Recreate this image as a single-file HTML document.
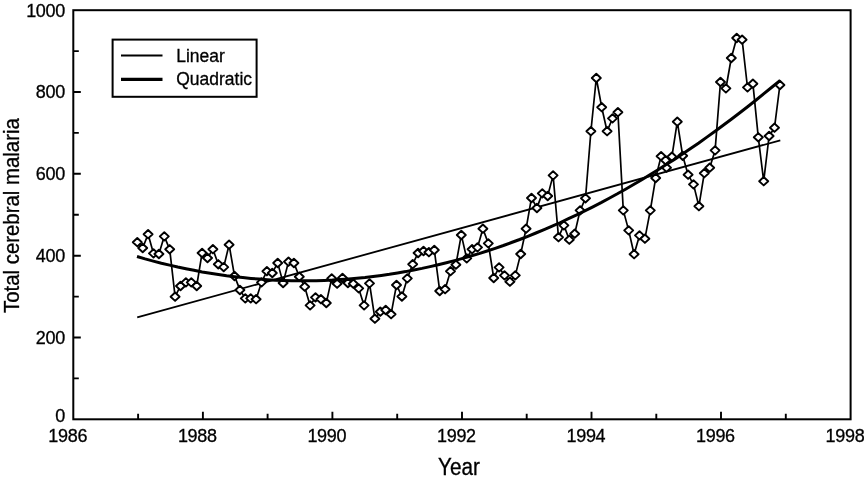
<!DOCTYPE html>
<html><head><meta charset="utf-8"><title>Total cerebral malaria by year</title>
<style>
html,body{margin:0;padding:0;background:#fff;}
svg{display:block;font-family:"Liberation Sans",Arial,Helvetica,sans-serif;fill:#000;}
.tk{font-size:18px;letter-spacing:-0.3px;}
text{stroke:#000;stroke-width:0.3px;}
.ax{font-size:20.6px;}
.lg{font-size:18px;}
</style></head><body>
<svg width="864" height="480" viewBox="0 0 864 480">
<rect width="864" height="480" fill="#fff"/>
<rect x="73.3" y="10.2" width="777.3" height="409.1" fill="none" stroke="#000" stroke-width="2"/>
<path d="M138.1,419.3v-5.5M202.9,419.3v-7.5M267.6,419.3v-5.5M332.4,419.3v-7.5M397.2,419.3v-5.5M462.0,419.3v-7.5M526.7,419.3v-5.5M591.5,419.3v-7.5M656.3,419.3v-5.5M721.0,419.3v-7.5M785.8,419.3v-5.5M73.3,378.4h5.5M73.3,337.5h7.5M73.3,296.6h5.5M73.3,255.7h7.5M73.3,214.8h5.5M73.3,173.8h7.5M73.3,132.9h5.5M73.3,92.0h7.5M73.3,51.1h5.5" fill="none" stroke="#000" stroke-width="1.9"/>
<g class="tk"><text x="67.7" y="441.6" text-anchor="middle">1986</text><text x="197.3" y="441.6" text-anchor="middle">1988</text><text x="326.8" y="441.6" text-anchor="middle">1990</text><text x="456.4" y="441.6" text-anchor="middle">1992</text><text x="585.9" y="441.6" text-anchor="middle">1994</text><text x="715.4" y="441.6" text-anchor="middle">1996</text><text x="845.0" y="441.6" text-anchor="middle">1998</text><text x="65" y="422.4" text-anchor="end">0</text><text x="65" y="343.8" text-anchor="end">200</text><text x="65" y="262.0" text-anchor="end">400</text><text x="65" y="180.1" text-anchor="end">600</text><text x="65" y="98.3" text-anchor="end">800</text><text x="65" y="16.5" text-anchor="end">1000</text></g>
<text class="ax" transform="translate(459,474.7) scale(1.005,1.13)" text-anchor="middle">Year</text>
<text class="ax" transform="translate(19.4,215.6) rotate(-90) scale(0.99,1.1)" text-anchor="middle">Total cerebral malaria</text>
<path d="M137.2,317.4 L780.3,140.3" fill="none" stroke="#000" stroke-width="1.8"/>
<path d="M137.3,242.2 L142.7,247.9 L148.1,234.2 L153.5,253.4 L158.9,253.9 L164.3,236.3 L169.7,249.3 L175.1,296.7 L180.5,285.9 L185.9,282.4 L191.3,282.4 L196.7,285.9 L202.1,252.9 L207.5,257.9 L212.9,249.2 L218.3,264.3 L223.7,267.1 L229.1,244.7 L234.5,275.9 L239.9,289.9 L245.3,298.4 L250.7,298.4 L256.1,299.2 L261.5,282.4 L266.9,271.2 L272.3,272.9 L277.7,262.9 L283.1,282.9 L288.5,261.7 L293.9,262.9 L299.3,276.7 L304.7,286.7 L310.1,305.4 L315.5,297.4 L320.9,299.2 L326.3,302.9 L331.7,278.4 L337.1,283.7 L342.5,277.9 L347.9,282.9 L353.3,283.7 L358.7,288.4 L364.1,305.4 L369.5,283.4 L374.9,318.7 L380.3,311.7 L385.7,309.9 L391.1,314.2 L396.5,284.9 L401.9,296.5 L407.3,278.4 L412.7,264.2 L418.1,252.9 L423.5,250.9 L428.9,252.2 L434.3,249.9 L439.7,290.9 L445.1,289.2 L450.5,271.2 L455.9,264.7 L461.3,234.9 L466.7,258.4 L472.1,249.2 L477.5,247.4 L482.9,228.7 L488.3,243.4 L493.7,277.9 L499.1,267.4 L504.5,275.4 L509.9,281.7 L515.3,275.4 L520.7,253.9 L526.1,228.7 L531.5,197.9 L536.9,207.9 L542.3,193.4 L547.7,195.9 L553.1,175.4 L558.5,237.2 L563.9,225.4 L569.3,239.7 L574.7,233.7 L580.1,210.4 L585.5,198.3 L590.9,131.2 L596.3,78.0 L601.7,107.2 L607.1,131.2 L612.5,118.5 L617.9,112.2 L623.3,210.4 L628.7,230.4 L634.1,254.2 L639.5,235.4 L644.9,238.7 L650.3,210.4 L655.7,177.9 L661.1,156.2 L665.6,160.3 L666.5,167.7 L671.9,156.7 L677.3,121.7 L682.7,155.8 L688.1,174.7 L693.5,184.4 L698.9,206.2 L704.3,173.2 L709.7,167.7 L715.1,150.4 L720.5,82.0 L725.9,88.5 L731.3,58.0 L736.7,38.0 L742.1,39.7 L747.5,87.5 L752.9,83.7 L758.3,137.3 L763.7,181.2 L769.1,136.0 L774.5,127.7 L779.9,85.0" fill="none" stroke="#000" stroke-width="1.7" stroke-linejoin="round"/>
<g fill="#fff" stroke="#000" stroke-width="1.9" stroke-linejoin="round"><path d="M137.3,238.0l4.5,4.2l-4.5,4.2l-4.5,-4.2z"/><path d="M142.7,243.8l4.5,4.2l-4.5,4.2l-4.5,-4.2z"/><path d="M148.1,230.0l4.5,4.2l-4.5,4.2l-4.5,-4.2z"/><path d="M153.5,249.2l4.5,4.2l-4.5,4.2l-4.5,-4.2z"/><path d="M158.9,249.8l4.5,4.2l-4.5,4.2l-4.5,-4.2z"/><path d="M164.3,232.2l4.5,4.2l-4.5,4.2l-4.5,-4.2z"/><path d="M169.7,245.1l4.5,4.2l-4.5,4.2l-4.5,-4.2z"/><path d="M175.1,292.5l4.5,4.2l-4.5,4.2l-4.5,-4.2z"/><path d="M180.5,281.8l4.5,4.2l-4.5,4.2l-4.5,-4.2z"/><path d="M185.9,278.2l4.5,4.2l-4.5,4.2l-4.5,-4.2z"/><path d="M191.3,278.2l4.5,4.2l-4.5,4.2l-4.5,-4.2z"/><path d="M196.7,281.8l4.5,4.2l-4.5,4.2l-4.5,-4.2z"/><path d="M202.1,248.8l4.5,4.2l-4.5,4.2l-4.5,-4.2z"/><path d="M207.5,253.8l4.5,4.2l-4.5,4.2l-4.5,-4.2z"/><path d="M212.9,245.0l4.5,4.2l-4.5,4.2l-4.5,-4.2z"/><path d="M218.3,260.1l4.5,4.2l-4.5,4.2l-4.5,-4.2z"/><path d="M223.7,262.9l4.5,4.2l-4.5,4.2l-4.5,-4.2z"/><path d="M229.1,240.5l4.5,4.2l-4.5,4.2l-4.5,-4.2z"/><path d="M234.5,271.8l4.5,4.2l-4.5,4.2l-4.5,-4.2z"/><path d="M239.9,285.8l4.5,4.2l-4.5,4.2l-4.5,-4.2z"/><path d="M245.3,294.2l4.5,4.2l-4.5,4.2l-4.5,-4.2z"/><path d="M250.7,294.2l4.5,4.2l-4.5,4.2l-4.5,-4.2z"/><path d="M256.1,295.0l4.5,4.2l-4.5,4.2l-4.5,-4.2z"/><path d="M261.5,278.2l4.5,4.2l-4.5,4.2l-4.5,-4.2z"/><path d="M266.9,267.0l4.5,4.2l-4.5,4.2l-4.5,-4.2z"/><path d="M272.3,268.8l4.5,4.2l-4.5,4.2l-4.5,-4.2z"/><path d="M277.7,258.8l4.5,4.2l-4.5,4.2l-4.5,-4.2z"/><path d="M283.1,278.8l4.5,4.2l-4.5,4.2l-4.5,-4.2z"/><path d="M288.5,257.5l4.5,4.2l-4.5,4.2l-4.5,-4.2z"/><path d="M293.9,258.8l4.5,4.2l-4.5,4.2l-4.5,-4.2z"/><path d="M299.3,272.5l4.5,4.2l-4.5,4.2l-4.5,-4.2z"/><path d="M304.7,282.5l4.5,4.2l-4.5,4.2l-4.5,-4.2z"/><path d="M310.1,301.2l4.5,4.2l-4.5,4.2l-4.5,-4.2z"/><path d="M315.5,293.2l4.5,4.2l-4.5,4.2l-4.5,-4.2z"/><path d="M320.9,295.0l4.5,4.2l-4.5,4.2l-4.5,-4.2z"/><path d="M326.3,298.8l4.5,4.2l-4.5,4.2l-4.5,-4.2z"/><path d="M331.7,274.2l4.5,4.2l-4.5,4.2l-4.5,-4.2z"/><path d="M337.1,279.5l4.5,4.2l-4.5,4.2l-4.5,-4.2z"/><path d="M342.5,273.8l4.5,4.2l-4.5,4.2l-4.5,-4.2z"/><path d="M347.9,278.8l4.5,4.2l-4.5,4.2l-4.5,-4.2z"/><path d="M353.3,279.5l4.5,4.2l-4.5,4.2l-4.5,-4.2z"/><path d="M358.7,284.2l4.5,4.2l-4.5,4.2l-4.5,-4.2z"/><path d="M364.1,301.2l4.5,4.2l-4.5,4.2l-4.5,-4.2z"/><path d="M369.5,279.2l4.5,4.2l-4.5,4.2l-4.5,-4.2z"/><path d="M374.9,314.5l4.5,4.2l-4.5,4.2l-4.5,-4.2z"/><path d="M380.3,307.5l4.5,4.2l-4.5,4.2l-4.5,-4.2z"/><path d="M385.7,305.8l4.5,4.2l-4.5,4.2l-4.5,-4.2z"/><path d="M391.1,310.0l4.5,4.2l-4.5,4.2l-4.5,-4.2z"/><path d="M396.5,280.8l4.5,4.2l-4.5,4.2l-4.5,-4.2z"/><path d="M401.9,292.3l4.5,4.2l-4.5,4.2l-4.5,-4.2z"/><path d="M407.3,274.2l4.5,4.2l-4.5,4.2l-4.5,-4.2z"/><path d="M412.7,260.0l4.5,4.2l-4.5,4.2l-4.5,-4.2z"/><path d="M418.1,248.8l4.5,4.2l-4.5,4.2l-4.5,-4.2z"/><path d="M423.5,246.8l4.5,4.2l-4.5,4.2l-4.5,-4.2z"/><path d="M428.9,248.0l4.5,4.2l-4.5,4.2l-4.5,-4.2z"/><path d="M434.3,245.8l4.5,4.2l-4.5,4.2l-4.5,-4.2z"/><path d="M439.7,286.8l4.5,4.2l-4.5,4.2l-4.5,-4.2z"/><path d="M445.1,285.0l4.5,4.2l-4.5,4.2l-4.5,-4.2z"/><path d="M450.5,267.0l4.5,4.2l-4.5,4.2l-4.5,-4.2z"/><path d="M455.9,260.5l4.5,4.2l-4.5,4.2l-4.5,-4.2z"/><path d="M461.3,230.8l4.5,4.2l-4.5,4.2l-4.5,-4.2z"/><path d="M466.7,254.2l4.5,4.2l-4.5,4.2l-4.5,-4.2z"/><path d="M472.1,245.0l4.5,4.2l-4.5,4.2l-4.5,-4.2z"/><path d="M477.5,243.2l4.5,4.2l-4.5,4.2l-4.5,-4.2z"/><path d="M482.9,224.5l4.5,4.2l-4.5,4.2l-4.5,-4.2z"/><path d="M488.3,239.2l4.5,4.2l-4.5,4.2l-4.5,-4.2z"/><path d="M493.7,273.8l4.5,4.2l-4.5,4.2l-4.5,-4.2z"/><path d="M499.1,263.2l4.5,4.2l-4.5,4.2l-4.5,-4.2z"/><path d="M504.5,271.2l4.5,4.2l-4.5,4.2l-4.5,-4.2z"/><path d="M509.9,277.5l4.5,4.2l-4.5,4.2l-4.5,-4.2z"/><path d="M515.3,271.2l4.5,4.2l-4.5,4.2l-4.5,-4.2z"/><path d="M520.7,249.8l4.5,4.2l-4.5,4.2l-4.5,-4.2z"/><path d="M526.1,224.5l4.5,4.2l-4.5,4.2l-4.5,-4.2z"/><path d="M531.5,193.8l4.5,4.2l-4.5,4.2l-4.5,-4.2z"/><path d="M536.9,203.8l4.5,4.2l-4.5,4.2l-4.5,-4.2z"/><path d="M542.3,189.2l4.5,4.2l-4.5,4.2l-4.5,-4.2z"/><path d="M547.7,191.8l4.5,4.2l-4.5,4.2l-4.5,-4.2z"/><path d="M553.1,171.2l4.5,4.2l-4.5,4.2l-4.5,-4.2z"/><path d="M558.5,233.0l4.5,4.2l-4.5,4.2l-4.5,-4.2z"/><path d="M563.9,221.2l4.5,4.2l-4.5,4.2l-4.5,-4.2z"/><path d="M569.3,235.5l4.5,4.2l-4.5,4.2l-4.5,-4.2z"/><path d="M574.7,229.5l4.5,4.2l-4.5,4.2l-4.5,-4.2z"/><path d="M580.1,206.2l4.5,4.2l-4.5,4.2l-4.5,-4.2z"/><path d="M585.5,194.1l4.5,4.2l-4.5,4.2l-4.5,-4.2z"/><path d="M590.9,127.0l4.5,4.2l-4.5,4.2l-4.5,-4.2z"/><path d="M596.3,73.8l4.5,4.2l-4.5,4.2l-4.5,-4.2z"/><path d="M601.7,103.0l4.5,4.2l-4.5,4.2l-4.5,-4.2z"/><path d="M607.1,127.0l4.5,4.2l-4.5,4.2l-4.5,-4.2z"/><path d="M612.5,114.2l4.5,4.2l-4.5,4.2l-4.5,-4.2z"/><path d="M617.9,108.0l4.5,4.2l-4.5,4.2l-4.5,-4.2z"/><path d="M623.3,206.2l4.5,4.2l-4.5,4.2l-4.5,-4.2z"/><path d="M628.7,226.2l4.5,4.2l-4.5,4.2l-4.5,-4.2z"/><path d="M634.1,250.0l4.5,4.2l-4.5,4.2l-4.5,-4.2z"/><path d="M639.5,231.2l4.5,4.2l-4.5,4.2l-4.5,-4.2z"/><path d="M644.9,234.5l4.5,4.2l-4.5,4.2l-4.5,-4.2z"/><path d="M650.3,206.2l4.5,4.2l-4.5,4.2l-4.5,-4.2z"/><path d="M655.7,173.8l4.5,4.2l-4.5,4.2l-4.5,-4.2z"/><path d="M661.1,152.0l4.5,4.2l-4.5,4.2l-4.5,-4.2z"/><path d="M665.6,156.1l4.5,4.2l-4.5,4.2l-4.5,-4.2z"/><path d="M666.5,163.5l4.5,4.2l-4.5,4.2l-4.5,-4.2z"/><path d="M671.9,152.5l4.5,4.2l-4.5,4.2l-4.5,-4.2z"/><path d="M677.3,117.5l4.5,4.2l-4.5,4.2l-4.5,-4.2z"/><path d="M682.7,151.6l4.5,4.2l-4.5,4.2l-4.5,-4.2z"/><path d="M688.1,170.5l4.5,4.2l-4.5,4.2l-4.5,-4.2z"/><path d="M693.5,180.2l4.5,4.2l-4.5,4.2l-4.5,-4.2z"/><path d="M698.9,202.0l4.5,4.2l-4.5,4.2l-4.5,-4.2z"/><path d="M704.3,169.0l4.5,4.2l-4.5,4.2l-4.5,-4.2z"/><path d="M709.7,163.5l4.5,4.2l-4.5,4.2l-4.5,-4.2z"/><path d="M715.1,146.2l4.5,4.2l-4.5,4.2l-4.5,-4.2z"/><path d="M720.5,77.8l4.5,4.2l-4.5,4.2l-4.5,-4.2z"/><path d="M725.9,84.2l4.5,4.2l-4.5,4.2l-4.5,-4.2z"/><path d="M731.3,53.8l4.5,4.2l-4.5,4.2l-4.5,-4.2z"/><path d="M736.7,33.8l4.5,4.2l-4.5,4.2l-4.5,-4.2z"/><path d="M742.1,35.5l4.5,4.2l-4.5,4.2l-4.5,-4.2z"/><path d="M747.5,83.2l4.5,4.2l-4.5,4.2l-4.5,-4.2z"/><path d="M752.9,79.5l4.5,4.2l-4.5,4.2l-4.5,-4.2z"/><path d="M758.3,133.1l4.5,4.2l-4.5,4.2l-4.5,-4.2z"/><path d="M763.7,177.0l4.5,4.2l-4.5,4.2l-4.5,-4.2z"/><path d="M769.1,131.8l4.5,4.2l-4.5,4.2l-4.5,-4.2z"/><path d="M774.5,123.5l4.5,4.2l-4.5,4.2l-4.5,-4.2z"/><path d="M779.9,80.8l4.5,4.2l-4.5,4.2l-4.5,-4.2z"/></g>
<path d="M137.0,256.5 L145.1,258.9 L153.3,261.1 L161.4,263.2 L169.6,265.1 L177.7,267.0 L185.9,268.7 L194.0,270.3 L202.1,271.9 L210.3,273.2 L218.4,274.5 L226.6,275.7 L234.7,276.7 L242.8,277.6 L251.0,278.4 L259.1,279.1 L267.3,279.7 L275.4,280.2 L283.6,280.5 L291.7,280.7 L299.8,280.8 L308.0,280.8 L316.1,280.7 L324.3,280.4 L332.4,280.1 L340.5,279.6 L348.7,279.0 L356.8,278.3 L365.0,277.5 L373.1,276.5 L381.3,275.4 L389.4,274.3 L397.5,273.0 L405.7,271.6 L413.8,270.0 L422.0,268.4 L430.1,266.6 L438.2,264.7 L446.4,262.7 L454.5,260.6 L462.7,258.4 L470.8,256.0 L479.0,253.6 L487.1,251.0 L495.2,248.3 L503.4,245.5 L511.5,242.5 L519.7,239.5 L527.8,236.3 L535.9,233.0 L544.1,229.6 L552.2,226.1 L560.4,222.5 L568.5,218.7 L576.7,214.9 L584.8,210.9 L592.9,206.8 L601.1,202.6 L609.2,198.2 L617.4,193.8 L625.5,189.2 L633.6,184.5 L641.8,179.7 L649.9,174.8 L658.1,169.8 L666.2,164.6 L674.4,159.4 L682.5,154.0 L690.6,148.5 L698.8,142.9 L706.9,137.1 L715.1,131.3 L723.2,125.3 L731.3,119.2 L739.5,113.0 L747.6,106.7 L755.8,100.3 L763.9,93.7 L772.1,87.0 L780.2,80.3" fill="none" stroke="#000" stroke-width="3.0"/>
<rect x="112.6" y="39.6" width="144" height="57.2" fill="#fff" stroke="#000" stroke-width="2"/>
<path d="M121,55.5H162.5" stroke="#000" stroke-width="1.8"/>
<path d="M121,79.3H162.5" stroke="#000" stroke-width="3.2"/>
<g class="lg"><text transform="translate(176.2,61.7) scale(0.972,1.06)">Linear</text><text transform="translate(176.2,85.1) scale(0.972,1.06)">Quadratic</text></g>
</svg>
</body></html>
